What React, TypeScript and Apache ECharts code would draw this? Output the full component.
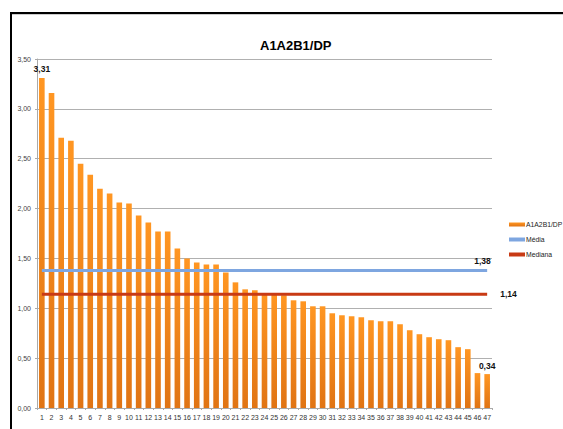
import React, { useEffect, useRef } from "react";
import * as echarts from "echarts";

const categories = Array.from({ length: 47 }, (_, i) => String(i + 1));
const values = [
  3.31, 3.16, 2.71, 2.68, 2.45, 2.34, 2.2, 2.15, 2.06, 2.05,
  1.93, 1.86, 1.77, 1.77, 1.6, 1.5, 1.46, 1.44, 1.44, 1.36,
  1.26, 1.19, 1.18, 1.14, 1.14, 1.13, 1.08, 1.07, 1.02, 1.02,
  0.95, 0.93, 0.92, 0.91, 0.88, 0.87, 0.87, 0.84, 0.78, 0.74,
  0.71, 0.69, 0.68, 0.61, 0.59, 0.35, 0.34,
];
const mediaValue = 1.38;
const medianaValue = 1.14;
const seriesNames = ["A1A2B1/DP", "Média", "Mediana"];
const titleText = "A1A2B1/DP";

const fmt = (v: number) => v.toFixed(2).replace(".", ",");

export default function App() {
  const ref = useRef<HTMLDivElement>(null);
  useEffect(() => {
    if (!ref.current) return;
    const chart = echarts.init(ref.current, undefined, { renderer: "svg" });
    const font = "Liberation Sans";
    const last = values.length - 1;
    const lblStyle = {
      fontSize: 8.5,
      fontWeight: "bold",
      color: "#111",
      fontFamily: font,
    };
    chart.setOption({
      animation: false,
      backgroundColor: "#ffffff",
      textStyle: { fontFamily: font },
      title: {
        text: titleText,
        left: 255,
        top: 34,
        textStyle: { fontSize: 13, fontWeight: "bold", color: "#000", fontFamily: font },
      },
      graphic: [
        { type: "rect", shape: { x: 10, y: 12, width: 560, height: 2 }, style: { fill: "#000" } },
        { type: "rect", shape: { x: 10, y: 14, width: 560, height: 1 }, style: { fill: "#cccccc" } },
        { type: "rect", shape: { x: 10, y: 12, width: 2, height: 420 }, style: { fill: "#000" } },
      ],
      legend: {
        orient: "vertical",
        left: 504,
        top: 216,
        itemWidth: 16,
        itemHeight: 4,
        itemGap: 8,
        textStyle: { fontSize: 6.8, color: "#222", fontFamily: font, padding: [0, 0, 0, -4] },
        data: [
          { name: seriesNames[0], icon: "rect" },
          { name: seriesNames[1], icon: "rect", itemStyle: { color: "#7ea6e0" } },
          { name: seriesNames[2], icon: "rect", itemStyle: { color: "#c83a14" } },
        ],
      },
      grid: { left: 37, right: 71, top: 59, bottom: 21 },
      xAxis: {
        type: "category",
        data: categories,
        axisLine: { lineStyle: { color: "#aaaaaa" } },
        axisTick: { show: true, length: 2, lineStyle: { color: "#aaaaaa" } },
        axisLabel: { fontSize: 7, color: "#333", margin: 6, interval: 0, fontFamily: font },
      },
      yAxis: {
        type: "value",
        min: 0,
        max: 3.5,
        interval: 0.5,
        axisLine: { show: true, lineStyle: { color: "#aaaaaa" } },
        axisTick: { show: true, length: 2, lineStyle: { color: "#aaaaaa" } },
        axisLabel: { fontSize: 7, color: "#444", margin: 6, formatter: (v: number) => fmt(v), fontFamily: font },
        splitLine: { lineStyle: { color: "#b0b0b0", width: 1.2 } },
      },
      series: [
        {
          name: seriesNames[0],
          type: "bar",
          barCategoryGap: "42%",
          itemStyle: {
            color: new echarts.graphic.LinearGradient(0, 0, 0, 1, [
              { offset: 0, color: "#ff9622" },
              { offset: 1, color: "#e07414" },
            ]),
          },
          data: values.map((v, i) => ({
            value: v,
            label: {
              show: i === 0 || i === last,
              position: "top",
              formatter: (p: any) => fmt(p.value),
              distance: 4,
              ...lblStyle,
            },
          })),
        },
        {
          name: seriesNames[1],
          type: "line",
          showSymbol: false,
          symbol: "none",
          lineStyle: { color: "#7ea6e0", width: 3 },
          itemStyle: { color: "#7ea6e0" },
          endLabel: {
            show: true,
            formatter: () => fmt(mediaValue),
            distance: 0,
            offset: [-13, -9],
            ...lblStyle,
          },
          data: categories.map(() => mediaValue),
          z: 3,
        },
        {
          name: seriesNames[2],
          type: "line",
          showSymbol: false,
          symbol: "none",
          lineStyle: { color: "#c83a14", width: 3 },
          itemStyle: { color: "#c83a14" },
          endLabel: {
            show: true,
            formatter: () => fmt(medianaValue),
            distance: 13,
            ...lblStyle,
          },
          data: categories.map(() => medianaValue),
          z: 3,
        },
      ],
    });
    return () => chart.dispose();
  }, []);
  return (
    <div
      ref={ref}
      style={{ position: "fixed", left: 0, top: 0, width: 563, height: 429 }}
    />
  );
}
